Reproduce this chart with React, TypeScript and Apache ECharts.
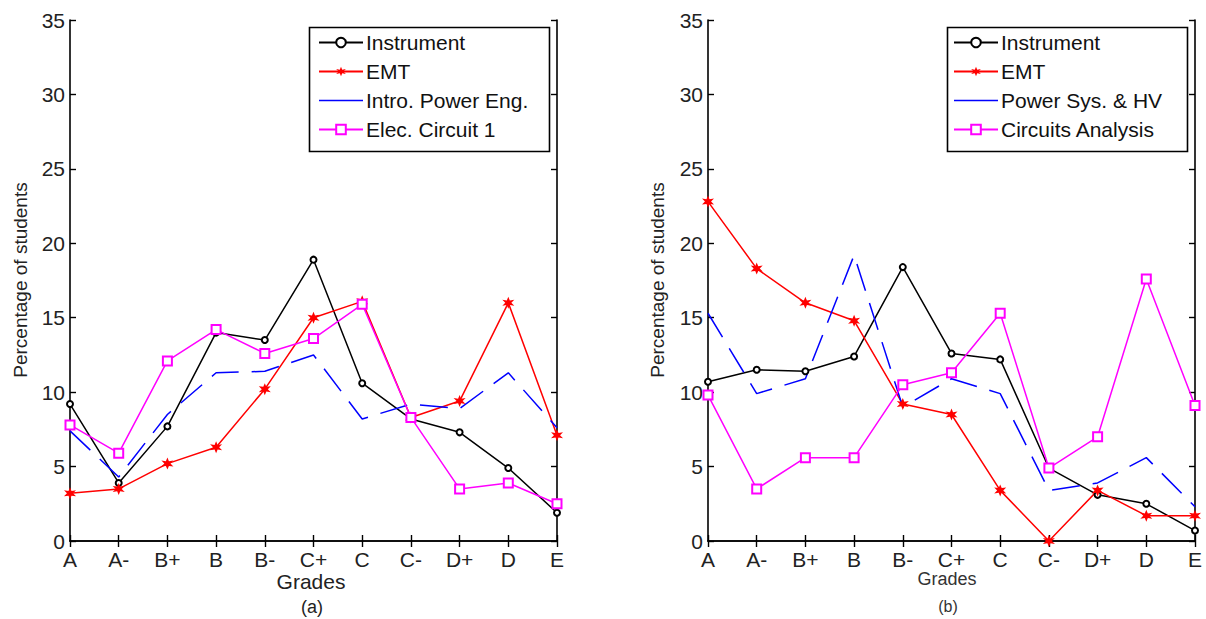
import React, { useEffect, useRef } from "react";
import * as echarts from "echarts";

const grades = ["A", "A-", "B+", "B", "B-", "C+", "C", "C-", "D+", "D", "E"];
const yTicks = [0, 5, 10, 15, 20, 25, 30, 35];

// Chart (a)
const instrumentA = [9.2, 3.9, 7.7, 14.0, 13.5, 18.9, 10.6, 8.2, 7.3, 4.9, 1.9];
const emtA = [3.2, 3.5, 5.2, 6.3, 10.2, 15.0, 16.1, 8.3, 9.4, 16.0, 7.1];
const introPowerA = [7.4, 4.3, 8.5, 11.3, 11.4, 12.5, 8.2, 9.2, 8.9, 11.3, 7.6];
const elecCircuitA = [7.8, 5.9, 12.1, 14.2, 12.6, 13.6, 15.9, 8.3, 3.5, 3.9, 2.5];

// Chart (b)
const instrumentB = [10.7, 11.5, 11.4, 12.4, 18.4, 12.6, 12.2, 4.9, 3.1, 2.5, 0.7];
const emtB = [22.8, 18.3, 16.0, 14.8, 9.2, 8.5, 3.4, 0, 3.4, 1.7, 1.7];
const powerSysB = [15.3, 9.9, 10.9, 19.2, 9.0, 10.9, 9.9, 3.4, 3.9, 5.6, 2.3];
const circuitsB = [9.8, 3.5, 5.6, 5.6, 10.5, 11.3, 15.3, 4.9, 7.0, 17.6, 9.1];

const legendA = ["Instrument", "EMT", "Intro. Power Eng.", "Elec. Circuit 1"];
const legendB = ["Instrument", "EMT", "Power Sys. & HV", "Circuits Analysis"];

const FONT = "'Liberation Sans', Arial, sans-serif";
const STAR =
  "path://M50 0L61 30.9L93.3 25L72 50L93.3 75L61 69.1L50 100L39 69.1L6.7 75L28 50L6.7 25L39 30.9Z";
const LINE_ICON = "path://M0 0H44V1.6H0Z";

const PLOTS = [
  { left: 70, top: 20, width: 487, height: 521 },
  { left: 708, top: 20, width: 487, height: 521 },
];

function lineSeries(
  name: string,
  data: number[],
  idx: number,
  color: string,
  kind: "circle" | "star" | "dash" | "square"
) {
  const s: any = {
    type: "line",
    name,
    data,
    xAxisIndex: idx * 2,
    yAxisIndex: idx * 2,
    lineStyle: { color, width: 1.5 },
    itemStyle: { color, borderColor: color, borderWidth: 1.4 },
    z: 2,
  };
  if (kind === "circle") {
    s.symbol = "emptyCircle";
    s.symbolSize = 6;
  } else if (kind === "star") {
    s.symbol = STAR;
    s.symbolSize = 12;
    s.itemStyle = { color, borderWidth: 0 };
  } else if (kind === "square") {
    s.symbol = "emptyRect";
    s.symbolSize = 9;
  } else {
    s.symbol = "none";
    s.showSymbol = false;
    s.itemStyle = { color, borderWidth: 0 };
    s.lineStyle = { color, width: 1.5, type: [28, 13] };
  }
  return s;
}

export default function App() {
  const ref = useRef<HTMLDivElement>(null);

  useEffect(() => {
    if (!ref.current) return;
    const chart = echarts.init(ref.current, undefined, { renderer: "svg" });

    const axisLine = { show: true, lineStyle: { color: "#000", width: 1.6 } };
    const axisTick = { show: true, inside: true, length: 6, lineStyle: { color: "#000", width: 1.4 } };

    const xAxes: any[] = [];
    const yAxes: any[] = [];
    PLOTS.forEach((_, i) => {
      xAxes.push({
        type: "category",
        gridIndex: i,
        data: grades,
        boundaryGap: false,
        position: "bottom",
        axisLine,
        axisTick,
        axisLabel: { color: "#222", fontSize: 21, fontFamily: FONT, margin: 8 },
        splitLine: { show: false },
      });
      xAxes.push({
        type: "category",
        gridIndex: i,
        data: grades,
        boundaryGap: false,
        position: "top",
        axisLine,
        axisTick,
        axisLabel: { show: false },
        splitLine: { show: false },
      });
      yAxes.push({
        type: "value",
        gridIndex: i,
        min: 0,
        max: 35,
        interval: 5,
        position: "left",
        axisLine,
        axisTick,
        axisLabel: { color: "#222", fontSize: 21, fontFamily: FONT, margin: 5 },
        splitLine: { show: false },
      });
      yAxes.push({
        type: "value",
        gridIndex: i,
        min: 0,
        max: 35,
        interval: 5,
        position: "right",
        axisLine,
        axisTick,
        axisLabel: { show: false },
        splitLine: { show: false },
      });
    });

    const series = [
      lineSeries("Instrument", instrumentA, 0, "#000000", "circle"),
      lineSeries("EMT", emtA, 0, "#ff0000", "star"),
      lineSeries("Intro. Power Eng.", introPowerA, 0, "#0000ff", "dash"),
      lineSeries("Elec. Circuit 1", elecCircuitA, 0, "#ff00ff", "square"),
      lineSeries("Instrument", instrumentB, 1, "#000000", "circle"),
      lineSeries("EMT", emtB, 1, "#ff0000", "star"),
      lineSeries("Power Sys. & HV", powerSysB, 1, "#0000ff", "dash"),
      lineSeries("Circuits Analysis", circuitsB, 1, "#ff00ff", "square"),
    ];

    const legendCommon = {
      orient: "vertical",
      padding: 0,
      itemWidth: 44,
      itemHeight: 12,
      itemGap: 8,
      selectedMode: false,
      z: 10,
      textStyle: { fontSize: 21, fontFamily: FONT, color: "#111", padding: [0, 0, 0, -2] },
    };
    const mkLegendData = (names: string[]) =>
      names.map((n, k) => (k === 2 ? { name: n, icon: LINE_ICON } : { name: n }));

    const boxStyle = { fill: "#fff", stroke: "#000", lineWidth: 1.6 };

    const option: any = {
      animation: false,
      backgroundColor: "#ffffff",
      grid: PLOTS.map((p) => ({ ...p, containLabel: false })),
      xAxis: xAxes,
      yAxis: yAxes,
      legend: [
        { ...legendCommon, left: 318, top: 32, data: mkLegendData(legendA) },
        { ...legendCommon, left: 953, top: 32, data: mkLegendData(legendB) },
      ],
      graphic: [
        { type: "rect", shape: { x: 309.5, y: 27.5, width: 240, height: 124 }, style: boxStyle, z: 5 },
        { type: "rect", shape: { x: 947.5, y: 27.5, width: 240, height: 124 }, style: boxStyle, z: 5 },
        {
          type: "text",
          x: 20,
          y: 280,
          rotation: Math.PI / 2,
          style: {
            text: "Percentage of students",
            fontSize: 19,
            fontFamily: FONT,
            fill: "#222",
            align: "center",
            verticalAlign: "middle",
          },
        },
        {
          type: "text",
          x: 657,
          y: 280,
          rotation: Math.PI / 2,
          style: {
            text: "Percentage of students",
            fontSize: 19,
            fontFamily: FONT,
            fill: "#222",
            align: "center",
            verticalAlign: "middle",
          },
        },
        {
          type: "text",
          x: 311,
          y: 581,
          style: { text: "Grades", fontSize: 21, fontFamily: FONT, fill: "#222", align: "center", verticalAlign: "middle" },
        },
        {
          type: "text",
          x: 312,
          y: 607,
          style: { text: "(a)", fontSize: 18, fontFamily: FONT, fill: "#222", align: "center", verticalAlign: "middle" },
        },
        {
          type: "text",
          x: 947,
          y: 579,
          style: { text: "Grades", fontSize: 18, fontFamily: FONT, fill: "#333", align: "center", verticalAlign: "middle" },
        },
        {
          type: "text",
          x: 948,
          y: 606,
          style: { text: "(b)", fontSize: 16, fontFamily: FONT, fill: "#333", align: "center", verticalAlign: "middle" },
        },
      ],
      series,
    };

    chart.setOption(option);
    return () => chart.dispose();
  }, []);

  return <div ref={ref} style={{ width: 1206, height: 619, position: "absolute", left: 0, top: 0 }} />;
}
